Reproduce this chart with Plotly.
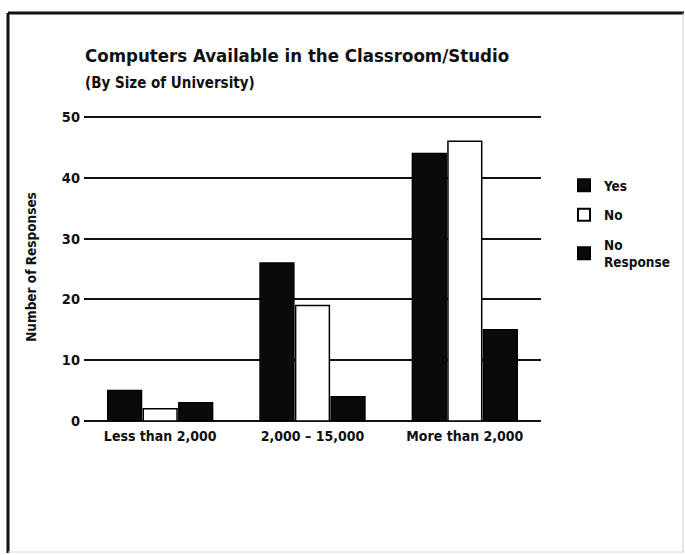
import plotly.graph_objects as go

categories = ["Less than 2,000", "2,000 – 15,000", "More than 2,000"]
yes_vals = [5, 26, 44]
no_vals = [2, 19, 46]
noresp_vals = [3, 4, 15]
series_names = ["Yes", "No", "No<br>Response"]
y_ticks = [0, 10, 20, 30, 40, 50]

FONT = "DejaVu Sans Condensed, Liberation Sans, Arial, sans-serif"

fig = go.Figure()
fig.add_trace(go.Bar(name=series_names[0], x=categories, y=yes_vals, legendgroup="a",
                     marker=dict(color="#0a0a0a", line=dict(color="#000", width=1.5))))
fig.add_trace(go.Bar(name=series_names[1], x=categories, y=no_vals, legendgroup="b",
                     marker=dict(color="#ffffff", line=dict(color="#000", width=1.5))))
fig.add_trace(go.Bar(name=series_names[2], x=categories, y=noresp_vals, legendgroup="c",
                     marker=dict(color="#0a0a0a", line=dict(color="#000", width=1.5))))

W, H = 685, 555
L, R, T, B = 84, 144, 113, 134
pw, ph = W - L - R, H - T - B
# 0 at pixel 421, 50 at pixel 117  -> 6.08 px per unit
y_max = ph / 6.08

def px_x(p):
    return (p - L) / pw

def px_y(p):
    return (H - B - p) / ph

shapes = [
    dict(type="line", xref="paper", yref="paper", x0=px_x(8), x1=px_x(8), y0=px_y(13), y1=px_y(553),
         line=dict(color="#111", width=3)),
    dict(type="line", xref="paper", yref="paper", x0=px_x(8), x1=px_x(684), y0=px_y(13), y1=px_y(13),
         line=dict(color="#111", width=3)),
    dict(type="line", xref="paper", yref="paper", x0=px_x(683), x1=px_x(683), y0=px_y(13), y1=px_y(553),
         line=dict(color="#cfcfcf", width=1)),
    dict(type="line", xref="paper", yref="paper", x0=px_x(8), x1=px_x(684), y0=px_y(552), y1=px_y(552),
         line=dict(color="#d8d8d8", width=1)),
]

annotations = [
    dict(text="<b>Computers Available in the Classroom/Studio</b>", xref="paper", yref="paper",
         x=px_x(83), y=px_y(56), xanchor="left", yanchor="middle", showarrow=False,
         font=dict(family=FONT, size=18.5, color="#111")),
    dict(text="<b>(By Size of University)</b>", xref="paper", yref="paper",
         x=px_x(83), y=px_y(83), xanchor="left", yanchor="middle", showarrow=False,
         font=dict(family=FONT, size=15, color="#111")),
]

fig.update_layout(
    width=W, height=H,
    margin=dict(l=L, r=R, t=T, b=B, autoexpand=False),
    paper_bgcolor="white", plot_bgcolor="white",
    barmode="group", bargap=0.3, bargroupgap=0.05,
    font=dict(family=FONT, size=14, color="#111", weight="bold"),
    shapes=shapes, annotations=annotations,
    showlegend=True,
    legend=dict(x=px_x(564), y=px_y(170), xanchor="left", yanchor="top",
                font=dict(family=FONT, size=13.5, color="#111", weight="bold"),
                tracegroupgap=9, itemsizing="constant", bgcolor="rgba(0,0,0,0)"),
    xaxis=dict(showgrid=False, showline=False, ticks="", tickfont=dict(size=14, weight="bold"),
               range=[-0.5, 2.5], automargin=False, ticklabelstandoff=5),
    yaxis=dict(range=[0, y_max], tickvals=y_ticks, showgrid=True, gridcolor="#111", gridwidth=1.5,
               zeroline=True, zerolinecolor="#111", zerolinewidth=1.5, showline=False,
               ticks="", tickfont=dict(size=14.5, weight="bold"), ticklen=0, automargin=False,
               ticklabelstandoff=3,
               title=dict(text="Number of Responses", font=dict(size=13.5, weight="bold"), standoff=22)),
)

fig.write_html("out.html")
